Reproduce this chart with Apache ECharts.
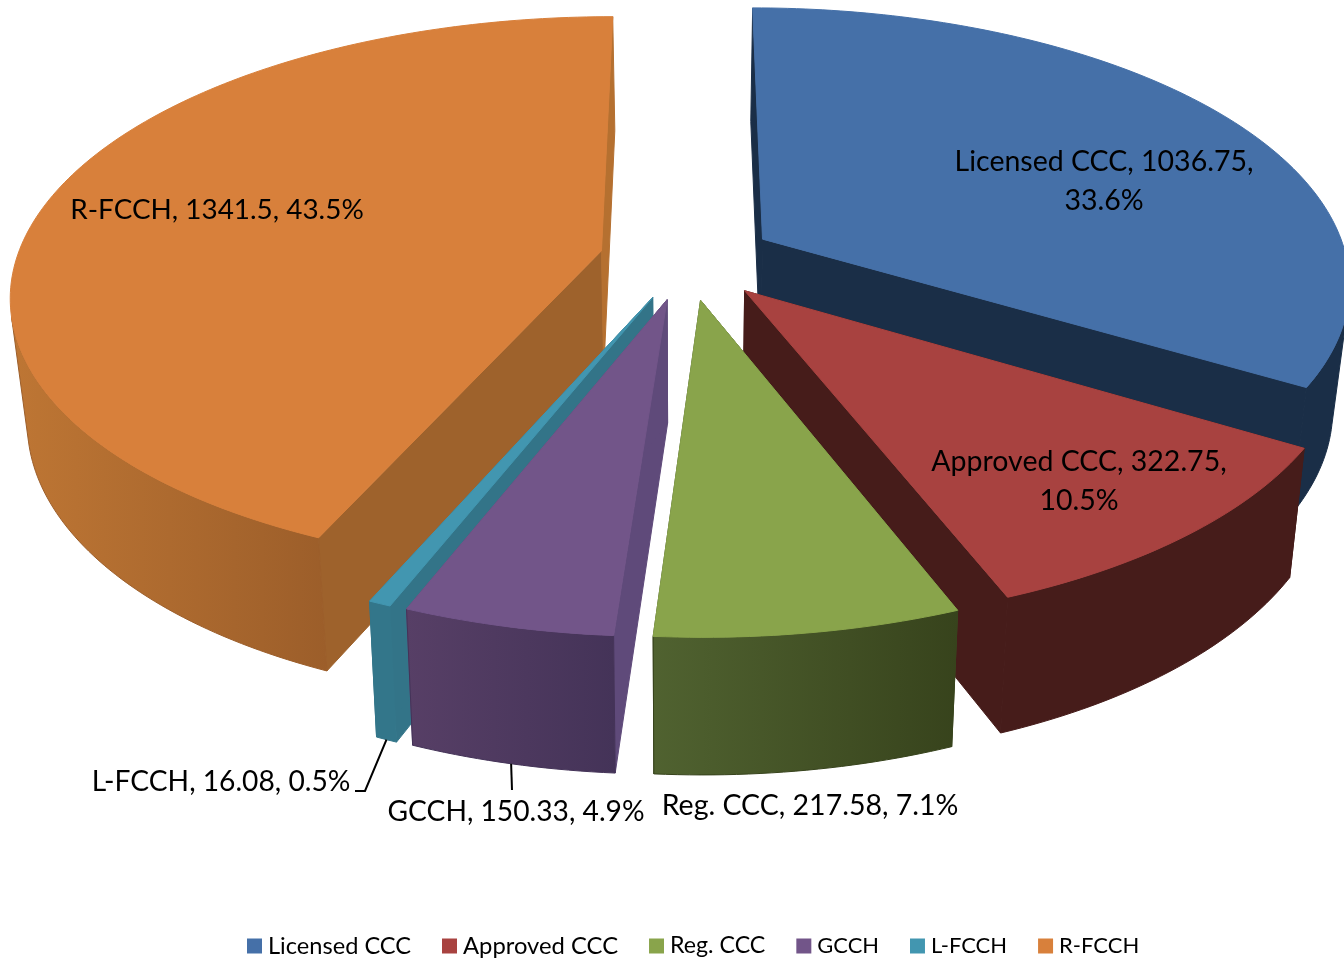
<!DOCTYPE html>
<html><head><meta charset="utf-8">
<style>html,body{margin:0;padding:0;background:#fff}#c{width:1344px;height:961px}</style>
<script src="https://cdn.jsdelivr.net/npm/echarts@6/dist/echarts.min.js"></script>
</head><body><div id="c"></div>
<script>
// ---- data ----
const categories = ['Licensed CCC','Approved CCC','Reg. CCC','GCCH','L-FCCH','R-FCCH'];
const values = [1036.75,322.75,217.58,150.33,16.08,1341.5];
const total = values.reduce((a,b)=>a+b,0);
// ---- styling ----
const topColors  = ['#4570A8','#A84240','#89A44B','#725589','#4296B0','#D8803B'];
const wallLeft   = ['#1A2E47','#461C1A','#506230','#573F66','#33768A','#BE7634'];
const wallRight  = ['#1A2E47','#461C1A','#37431C','#443358','#33768A','#9C5E2A'];
const startFace  = ['#1A2E47','#461C1A','#3F4D24','#5F4A7A','#337488','#9E622C'];
const endFace    = ['#1A2E47','#461C1A','#3F4D24','#5F4A7A','#337488','#B57030'];
const legendFont = [23.6,23.8,23.2,21.9,22,22];
const labelFont  = [28.5,28.5,28.5,28.2,28.2,27.9];
const drawOrder  = [0,5,1,4,3,2];
const labelPos   = [[1104,181],[1079,481],[810,806],[516,812],[221,782],[217,210]];
const labelWrap  = [true,true,false,false,false,false];
const leaderElbow= [null,null,null,[[512,790]],[[365,791],[355,791]],null];
const FONT = 'Lato, Carlito, sans-serif';
// ---- projection of the tilted, exploded pie ----
const EXPLODE=.15, CX=687;
const TOP={cy:259,rx:585,ry:272,k:.152}, BOT={cy:381,rx:570,ry:282,k:.155};
function proj(pl,u,v){const p=1/(1-pl.k*v);return [CX+pl.rx*u*p, pl.cy+pl.ry*v*p];}
const rad=d=>d*Math.PI/180;
const starts=[];let acc=0;values.forEach(v=>{starts.push(acc);acc+=v/total*360;});

function slice(idx,value){
  const a0=starts[idx],a1=a0+value/total*360,mid=(a0+a1)/2;
  const ex=EXPLODE*Math.sin(rad(mid)),ey=-EXPLODE*Math.cos(rad(mid));
  const rim=(pl,a)=>proj(pl,ex+Math.sin(rad(a)),ey-Math.cos(rad(a)));
  const arc=pl=>{const o=[];const n=Math.max(2,Math.ceil(a1-a0));for(let i=0;i<=n;i++)o.push(rim(pl,a0+(a1-a0)*i/n));return o;};
  const tA=proj(TOP,ex,ey),bA=proj(BOT,ex,ey),tArc=arc(TOP),bArc=arc(BOT);
  const kids=[];
  const poly=(points,fill,sc)=>kids.push({type:'polygon',shape:{points},style:{fill,stroke:sc||fill,lineWidth:1}});
  poly([tA,tArc[0],bArc[0],bA],startFace[idx]);
  poly([tA,tArc[tArc.length-1],bArc[bArc.length-1],bA],endFace[idx]);
  // outer wall: only the run of rim segments that faces the viewer
  let first=-1,last=-1;
  for(let i=0;i<tArc.length-1;i++){
    const dx=tArc[i+1][0]-tArc[i][0],dy=tArc[i+1][1]-tArc[i][1];
    const hx=bArc[i][0]-tArc[i][0],hy=bArc[i][1]-tArc[i][1];
    if(dx*hy-dy*hx<0){if(first<0)first=i;last=i+1;}
  }
  if(first>=0){
    const t=tArc.slice(first,last+1),b=bArc.slice(first,last+1).reverse();
    poly(t.concat(b),{type:'linear',x:0,y:0,x2:1,y2:0,colorStops:[{offset:0,color:wallLeft[idx]},{offset:1,color:wallRight[idx]}]},wallRight[idx]);
  }
  poly([tA].concat(tArc),topColors[idx]);
  if(leaderElbow[idx]){
    kids.push({type:'polyline',shape:{points:[rim(BOT,mid)].concat(leaderElbow[idx])},style:{stroke:'#000',lineWidth:2,fill:'none'}});
  }
  const pct=(value/total*100).toFixed(1)+'%';
  const txt=categories[idx]+', '+value+','+(labelWrap[idx]?'\n':' ')+pct;
  kids.push({type:'text',z2:10,style:{text:txt,x:labelPos[idx][0],y:labelPos[idx][1],align:'center',verticalAlign:'middle',fill:'#000',fontFamily:FONT,fontSize:labelFont[idx],lineHeight:39}});
  return {type:'group',children:kids};
}
const chart=echarts.init(document.getElementById('c'),null,{renderer:'canvas'});
const series=drawOrder.map(i=>({
  type:'custom',name:categories[i],coordinateSystem:'none',silent:true,animation:false,
  itemStyle:{color:topColors[i]},data:[[values[i]]],
  renderItem:(params,api)=>slice(i,api.value(0))
}));
chart.setOption({
  animation:false,backgroundColor:'#fff',
  legend:{data:categories.map((n,i)=>({name:n,textStyle:{fontSize:legendFont[i]}})),icon:'rect',top:929,left:242,itemWidth:15,itemHeight:15,itemGap:31,selectedMode:false,
    textStyle:{fontFamily:FONT,color:'#000',padding:[0,0,0,1]}},
  series
});
</script></body></html>
